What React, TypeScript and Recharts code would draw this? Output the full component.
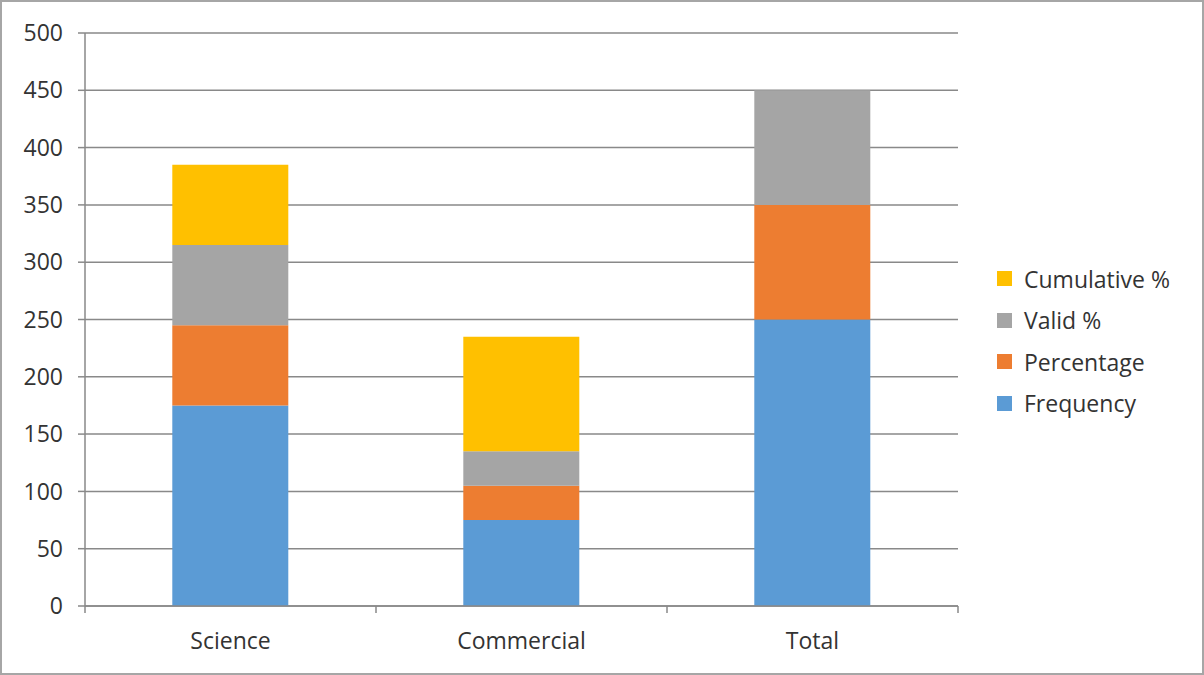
import { BarChart, Bar, XAxis, YAxis, CartesianGrid } from "recharts";

const categories = ["Science", "Commercial", "Total"];
const frequency = [175, 75, 250];
const percentage = [70, 30, 100];
const validPct = [70, 30, 100];
const cumulativePct = [70, 100, null];
const yTicks = [0, 50, 100, 150, 200, 250, 300, 350, 400, 450, 500];

const series = [
  { key: "frequency", name: "Frequency", color: "#5B9BD5" },
  { key: "percentage", name: "Percentage", color: "#ED7D31" },
  { key: "valid", name: "Valid %", color: "#A5A5A5" },
  { key: "cumulative", name: "Cumulative %", color: "#FFC000" },
];

const data = categories.map((name, i) => ({
  name,
  frequency: frequency[i],
  percentage: percentage[i],
  valid: validPct[i],
  cumulative: cumulativePct[i],
}));

const W = 1204;
const H = 675;
const margin = { top: 33, right: 246, bottom: 9, left: 0 };
const yAxisWidth = 85;
const plotWidth = W - margin.left - margin.right - yAxisWidth;
const halfBand = plotWidth / categories.length / 2;

const FONT = "'Open Sans', sans-serif";
const TEXT = "#333333";
const LINE = "#898989";

// category ticks sit on the band edges, like Excel
const XTick = (props: any) => {
  const { x, y, payload, index } = props;
  const isLast = index === categories.length - 1;
  return (
    <g>
      <line x1={x - halfBand} x2={x - halfBand} y1={y - 8} y2={y - 1} stroke={LINE} strokeWidth={1.5} />
      {isLast && <line x1={x + halfBand} x2={x + halfBand} y1={y - 8} y2={y - 1} stroke={LINE} strokeWidth={1.5} />}
      <text x={x} y={y + 35} textAnchor="middle" fill={TEXT} fontSize={23} fontFamily={FONT}>
        {payload.value}
      </text>
    </g>
  );
};

const LegendBox = () => (
  <div style={{ fontFamily: FONT, fontSize: 23, color: TEXT }}>
    {[...series].reverse().map((s) => (
      <div key={s.key} style={{ display: "flex", alignItems: "center", height: 41.5 }}>
        <span style={{ width: 15, height: 15, background: s.color, display: "inline-block", marginRight: 12 }} />
        {s.name}
      </div>
    ))}
  </div>
);

export default function App() {
  return (
    <div
      style={{
        position: "fixed",
        left: 0,
        top: 0,
        width: W,
        height: H,
        background: "#fff",
        boxSizing: "border-box",
        border: "2px solid #a6a6a6",
      }}
    >
      <div style={{ position: "absolute", left: -2, top: -2 }}>
        <BarChart width={W} height={H} data={data} margin={margin} barCategoryGap="30%">
          <CartesianGrid vertical={false} stroke={LINE} strokeWidth={1.5} />
          <XAxis
            dataKey="name"
            height={60}
            axisLine={{ stroke: LINE, strokeWidth: 1.5 }}
            tickLine={false}
            tick={<XTick />}
            interval={0}
          />
          <YAxis
            width={yAxisWidth}
            domain={[0, 500]}
            ticks={yTicks}
            interval={0}
            axisLine={{ stroke: LINE, strokeWidth: 1.5 }}
            tickLine={{ stroke: LINE, strokeWidth: 1.5 }}
            tickSize={7}
            tickMargin={15}
            tick={{ fill: TEXT, fontSize: 23, fontFamily: FONT }}
          />
          {series.map((s) => (
            <Bar key={s.key} dataKey={s.key} name={s.name} stackId="a" fill={s.color} isAnimationActive={false} />
          ))}
        </BarChart>
      </div>
      <div style={{ position: "absolute", left: 995, top: 256 }}>
        <LegendBox />
      </div>
    </div>
  );
}
